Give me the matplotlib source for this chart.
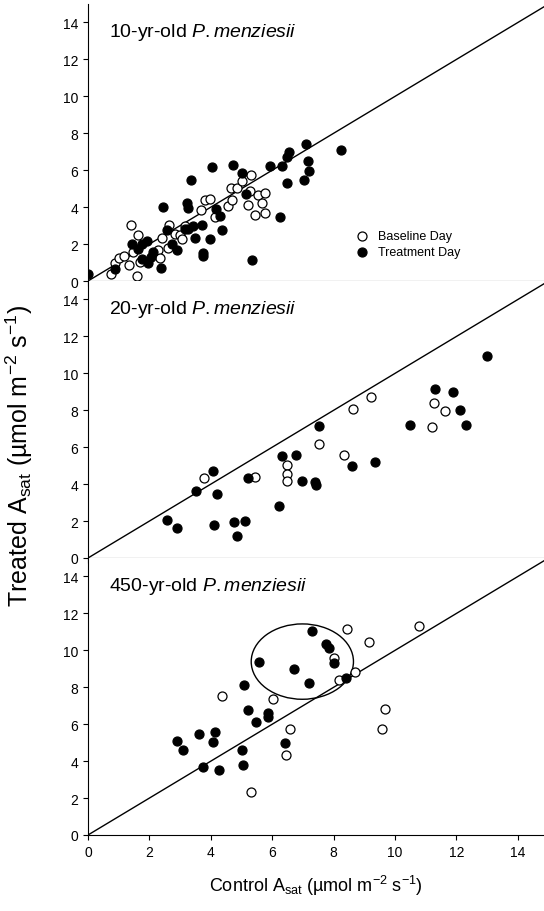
import matplotlib
matplotlib.use("Agg")
import matplotlib.pyplot as plt
from matplotlib.patches import Ellipse

plt.rcParams['font.family'] = ['Liberation Sans', 'DejaVu Sans']
plt.rcParams['mathtext.fontset'] = 'custom'
plt.rcParams['mathtext.rm'] = 'Liberation Sans'
plt.rcParams['mathtext.it'] = 'Liberation Sans:italic'

p1_tx = [0,0.88,1.42,1.64,1.75,1.91,1.75,1.97,2.04,2.13,2.38,2.45,2.58,2.73,2.89,3.16,3.27,3.24,3.27,3.36,3.49,3.43,3.7,3.73,3.73,3.97,4.03,4.16,4.3,4.35,4.73,5.03,5.14,5.33,5.93,6.26,6.31,6.47,6.47,6.55,7.1,7.05,7.15,7.19,8.24]
p1_ty = [0.4,0.63,2.02,1.75,2.0,2.16,1.17,0.98,1.3,1.57,0.72,4.0,2.78,2.02,1.7,2.83,2.83,4.22,3.95,5.48,2.32,2.96,3.01,1.53,1.35,2.29,6.2,3.91,3.51,2.78,6.29,5.86,4.72,1.12,6.22,3.48,6.22,6.74,5.29,6.97,7.42,5.48,6.48,5.98,7.11]
p1_bx = [0.74,0.88,1.02,1.18,1.35,1.4,1.48,1.61,1.64,1.69,2.29,2.35,2.4,2.65,2.62,2.84,2.98,3.05,3.16,3.67,3.81,3.97,4.14,4.55,4.68,4.66,4.84,5.0,5.3,5.2,5.28,5.44,5.55,5.68,5.77,5.77]
p1_by = [0.4,0.97,1.26,1.35,0.88,3.01,1.57,0.25,2.47,1.03,1.7,1.26,2.34,3.01,1.8,2.56,2.47,2.25,2.97,3.87,4.36,4.45,3.46,4.05,4.4,5.05,5.05,5.4,5.75,4.09,4.9,3.6,4.68,4.22,4.77,3.67]

p2_tx = [2.58,2.91,3.52,4.06,4.19,4.1,4.77,4.84,5.11,5.2,6.22,6.31,6.78,6.96,7.4,7.42,7.51,8.6,9.34,10.49,11.3,11.9,12.1,12.3,13.0]
p2_ty = [2.06,1.65,3.62,4.7,3.46,1.79,1.97,1.17,2.0,4.34,2.83,5.52,5.59,4.16,4.12,3.94,7.17,4.98,5.2,7.2,9.17,8.99,8.02,7.22,10.93]
p2_bx = [3.79,5.44,6.49,6.47,6.47,7.53,8.34,8.62,9.22,11.2,11.26,11.64]
p2_by = [4.35,4.37,5.02,4.57,4.17,6.16,5.59,8.06,8.74,7.08,8.37,7.98]

p3_tx = [2.91,3.08,3.62,3.76,4.06,4.14,4.28,5.02,5.06,5.09,5.2,5.47,5.58,5.85,5.85,6.42,6.72,7.21,7.31,7.75,7.84,8.02,8.39]
p3_ty = [5.11,4.58,5.45,3.68,5.04,5.58,3.54,4.62,3.77,8.12,6.79,6.12,9.35,6.58,6.4,4.98,8.99,8.21,11.05,10.34,10.14,9.29,8.48]
p3_bx = [4.38,5.31,6.04,6.44,6.58,8.01,8.18,8.42,8.7,9.15,9.56,9.67,10.79]
p3_by = [7.52,2.35,7.34,4.35,5.72,9.56,8.42,11.14,8.8,10.43,5.72,6.81,11.34]

titles = ["10-yr-old", "20-yr-old", "450-yr-old"]
yticks = [0,2,4,6,8,10,12,14]
xticks = [0,2,4,6,8,10,12,14]

fig = plt.figure(figsize=(5.44, 9.12), dpi=100)
data = [(p1_bx,p1_by,p1_tx,p1_ty),(p2_bx,p2_by,p2_tx,p2_ty),(p3_bx,p3_by,p3_tx,p3_ty)]
H = 277/912
for i,(bx,by,tx,ty) in enumerate(data):
    bottom = (912-836)/912 + (2-i)*H
    ax = fig.add_axes([88/544, bottom, 1-88/544, H])
    ax.set_xlim(0, 14.85); ax.set_ylim(0, 15)
    ax.plot([0,15],[0,15], color='black', lw=1)
    ax.scatter(bx, by, s=42, facecolors='white', edgecolors='black', linewidths=0.9, zorder=3, label='Baseline Day')
    ax.scatter(tx, ty, s=42, facecolors='black', edgecolors='black', linewidths=0.9, zorder=3, label='Treatment Day')
    for s in ['top','right']:
        ax.spines[s].set_visible(False)
    ax.set_yticks(yticks)
    ax.set_xticks(xticks)
    ax.tick_params(direction='out', labelsize=10)
    if i < 2:
        ax.tick_params(axis='x', labelbottom=False)
    ax.text(0.045, 0.94, titles[i] + " $\\it{P. menziesii}$", transform=ax.transAxes, fontsize=14, va='top')
    if i == 0:
        ax.legend(loc='lower right', bbox_to_anchor=(0.83, 0.06), frameon=False, fontsize=9,
                  handletextpad=0.3, borderpad=0, labelspacing=0.3)
    if i == 2:
        ax.add_patch(Ellipse((6.98, 9.39), 3.33, 4.08, fill=False, edgecolor='black', lw=1))
        ax.set_xlabel("Control A$_{\\rm sat}$ (µmol m$^{-2}$ s$^{-1}$)", fontsize=13, labelpad=10)
fig.text(0.035, 0.5, "Treated A$_{\\rm sat}$ (µmol m$^{-2}$ s$^{-1}$)", rotation=90, fontsize=18, va='center', ha='center')
fig.savefig("out.png", dpi=100)
